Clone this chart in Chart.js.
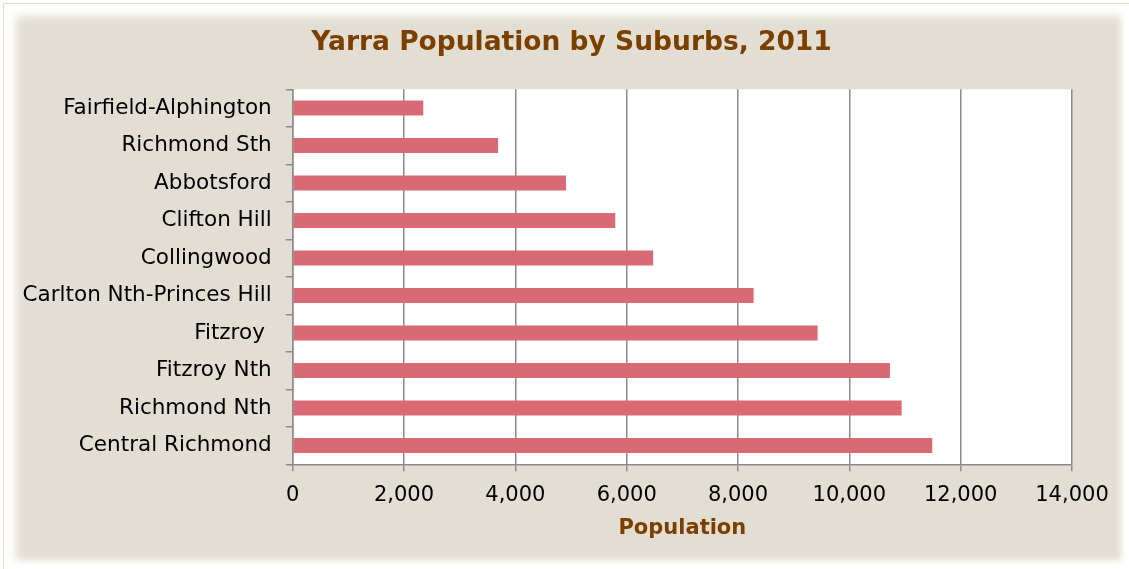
<!DOCTYPE html>
<html>
<head>
<meta charset="utf-8">
<script src="https://cdn.jsdelivr.net/npm/chart.js@4"></script>
<style>
  html, body { margin:0; padding:0; background:#fff; width:1129px; height:569px; overflow:hidden; }
  #outer { position:absolute; left:3px; top:3px; width:1200px; height:700px; border-left:1px solid #E2DCCF; border-top:1px solid #E2DCCF; }
  #panel { position:absolute; left:8px; top:8px; width:1117px; height:557px; background:#E3DED3;
           box-shadow: inset 10px 10px 10px -2px #fff, inset -5px -6px 6px -1px #fff; }
  #wrap { position:absolute; left:0; top:0; width:1129px; height:569px; }
</style>
</head>
<body>
<div id="outer"></div>
<div id="panel"></div>
<div id="wrap"><canvas id="c" width="1129" height="569"></canvas></div>
<script>
const categories = ["Fairfield-Alphington","Richmond Sth","Abbotsford","Clifton Hill","Collingwood","Carlton Nth-Princes Hill","Fitzroy ","Fitzroy Nth","Richmond Nth","Central Richmond"];
const population = [2345, 3690, 4910, 5795, 6475, 8280, 9430, 10730, 10940, 11490];
const chartTitle = "Yarra Population by Suburbs, 2011";
const xAxisTitle = "Population";

const plotBg = {
  id: 'plotBg',
  beforeDraw(chart) {
    const {ctx, chartArea:a} = chart;
    ctx.save(); ctx.fillStyle = '#fff';
    ctx.fillRect(a.left, a.top, a.right - a.left, a.bottom - a.top);
    ctx.restore();
  }
};

const titleText = {
  id: 'titleText',
  afterDraw(chart) {
    const ctx = chart.ctx;
    ctx.save();
    ctx.font = 'bold 26.5px "DejaVu Sans"';
    ctx.fillStyle = '#7B3F00';
    ctx.textAlign = 'center';
    ctx.textBaseline = 'middle';
    ctx.fillText(chartTitle, 571.5, 43.6);
    ctx.restore();
  }
};

new Chart(document.getElementById('c'), {
  type: 'bar',
  data: { labels: categories, datasets: [{ data: population, backgroundColor: '#D96A75', borderWidth: 0,
          barPercentage: 0.4, categoryPercentage: 1.0 }] },
  plugins: [plotBg, titleText],
  options: {
    indexAxis: 'y', responsive: false, animation: false, maintainAspectRatio: false,
    layout: { padding: { left: 0, right: 57, top: 89.3, bottom: 24 } },
    plugins: {
      legend: { display: false }, tooltip: { enabled: false },
      title: { display: false }
    },
    scales: {
      x: {
        min: 0, max: 14000,
        ticks: { stepSize: 2000, color: '#000', padding: 12,
                 font: { family: 'DejaVu Sans', size: 21 },
                 callback: v => v.toLocaleString('en-US') },
        grid: { color: '#8A8A8A', lineWidth: 1.5, tickLength: 7 },
        border: { color: '#8A8A8A', width: 1.5 },
        title: { display: true, text: xAxisTitle, color: '#7B3F00',
                 font: { family: 'DejaVu Sans', size: 21, weight: 'bold' }, padding: { top: 0, bottom: 4 } },
        afterFit(s) { s.height = 569 - 24 - 464.3; }
      },
      y: {
        ticks: { color: '#000', padding: 14, font: { family: 'DejaVu Sans', size: 21.5 } },
        grid: { drawOnChartArea: false, color: '#8A8A8A', lineWidth: 1.5, tickLength: 7, offset: true },
        border: { color: '#8A8A8A', width: 1.5 },
        afterFit(s) { s.width = 292.7; }
      }
    }
  }
});
</script>
</body>
</html>
